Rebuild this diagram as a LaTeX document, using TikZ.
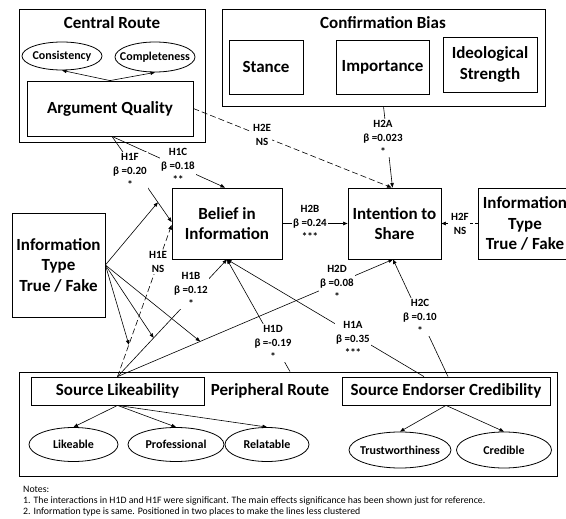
\documentclass[tikz,border=0pt]{standalone}
\usepackage{fontspec}
\setmainfont{Carlito}
\usetikzlibrary{arrows.meta,shapes.geometric,calc}
\begin{document}
\begin{tikzpicture}[x=1pt,y=-1pt,
  box/.style={draw, line width=0.8pt, inner sep=0pt, align=center, font=\fontsize{17}{20.5}\selectfont\bfseries},
  ell/.style={draw, ellipse, line width=0.8pt, inner sep=0pt, font=\fontsize{12}{14}\selectfont\bfseries},
  grp/.style={draw, line width=0.8pt, inner sep=0pt},
  ttl/.style={inner sep=0pt, font=\fontsize{17}{20}\selectfont\bfseries},
  lbl/.style={fill=white, inner sep=1pt, align=center, font=\fontsize{11}{14}\selectfont\bfseries},
  arr/.style={-{Triangle[length=4.5pt,width=3.5pt]}, line width=0.6pt},
  dsh/.style={arr, dash pattern=on 6pt off 3pt},
  note/.style={anchor=west, inner sep=0pt, font=\fontsize{9.8}{11}\selectfont},
]
\useasboundingbox (0,0) rectangle (566,519);

% Central route
\node[grp, minimum width=186pt, minimum height=133pt] (central) at (112,75.5) {};
\node[ttl] (centralT) at (112,23) {Central Route};
\node[ell, minimum width=80pt, minimum height=28pt] (consist) at (62,56) {\makebox[0pt]{Consistency}};
\node[ell, minimum width=80pt, minimum height=30pt] (complete) at (155,57) {\makebox[0pt]{Completeness}};
\node[box, minimum width=166pt, minimum height=55pt] (aq) at (110,108.5) {Argument Quality};

% Confirmation bias
\node[grp, minimum width=323pt, minimum height=97pt] (conf) at (383.5,57.5) {};
\node[ttl] (confT) at (383,23) {Confirmation Bias};
\node[box, minimum width=74pt, minimum height=54pt] (stance) at (266,67) {Stance};
\node[box, minimum width=93pt, minimum height=54pt] (import) at (382.5,67) {Importance};
\node[box, minimum width=94pt, minimum height=55pt] (ideo) at (490,64.5) {Ideological\\Strength};

% Middle
\node[box, minimum width=110pt, minimum height=71pt] (belief) at (227,223.5) {Belief in\\Information};
\node[box, minimum width=93pt, minimum height=71pt] (intent) at (394.5,223.5) {Intention to\\Share};
\node[box, minimum width=94pt, minimum height=71pt] (itr) at (525,223.5) {Information\\Type\\True / Fake};
\node[box, minimum width=93pt, minimum height=104pt] (itl) at (58.5,265) {Information\\Type\\True / Fake};

% Peripheral route
\node[grp, minimum width=538pt, minimum height=104pt] (per) at (288,424) {};
\node[box, minimum width=173pt, minimum height=28pt] (sl) at (117.5,391) {Source Likeability};
\node[ttl] (perT) at (270,391) {Peripheral Route};
\node[box, minimum width=208pt, minimum height=28pt] (sec) at (446,391) {Source Endorser Credibility};
\node[ell, minimum width=89pt, minimum height=34pt] (likeable) at (73.5,444.5) {\makebox[0pt]{Likeable}};
\node[ell, minimum width=96pt, minimum height=34pt] (prof) at (176,444.5) {\makebox[0pt]{Professional}};
\node[ell, minimum width=84pt, minimum height=34pt] (relat) at (267,444.5) {\makebox[0pt]{Relatable}};
\node[ell, minimum width=102pt, minimum height=36pt] (trust) at (400,450) {\makebox[0pt]{Trustworthiness}};
\node[ell, minimum width=95pt, minimum height=36pt] (cred) at (504,450) {\makebox[0pt]{Credible}};

% Connectors
\draw[arr] (aq.north) -- (consist.south);
\draw[arr] (aq.north) -- (complete.south);
\draw[arr] ($(aq.south)+(2,0)$) -- ($(belief.north)+(-2,0)$);
\draw[arr] ($(aq.south)+(2,0)$) -- coordinate[pos=0.77] (m1f) ($(belief.west)+(0,-1.5)$);
\draw[dsh] (aq.east) -- ($(intent.north)+(-3,0)$);
\draw[arr] (conf.south) -- ($(intent.north)+(-2,0)$);
\draw[arr] (belief.east) -- (intent.west);
\draw[arr, dash pattern=on 3pt off 2pt] (itr.west) -- (intent.east);
\draw[dsh] (sl.north) -- coordinate[pos=0.21] (m1e) ($(belief.west)+(0,1.5)$);
\draw[arr] (sl.north) -- coordinate[pos=0.33] (m1b) (belief.south);
\draw[arr] (sl.north) -- coordinate[pos=0.30] (m2d) ($(intent.south)+(-1.5,0)$);
\draw[arr] ($(per.north)+(2,0)$) -- (belief.south);
\draw[arr] ($(sec.north)+(-22,0)$) -- (belief.south);
\draw[arr] ($(sec.north)+(2,0)$) -- ($(intent.south)+(-1.5,0)$);
\draw[arr] (itl.east) -- (m1f);
\draw[arr] (itl.east) -- (m1e);
\draw[arr] (itl.east) -- (m1b);
\draw[arr] (itl.east) -- (m2d);
\draw[arr] (sl.south) -- (likeable.north);
\draw[arr] (sl.south) -- (prof.north);
\draw[arr] (sl.south) -- (relat.north);
\draw[arr] (sec.south) -- (trust.north);
\draw[arr] (sec.south) -- (cred.north);

% Labels
\node[lbl] (l1f) at (130,171) {H1F\\β =0.20\\*};
\node[lbl] (l1c) at (178,166) {H1C\\β =0.18\\**};
\node[lbl] (l2e) at (262,135) {H2E\\NS};
\node[lbl] (l2a) at (383,138) {H2A\\β =0.023\\*};
\node[lbl] (l2b) at (310,223) {H2B\\β =0.24\\***};
\node[lbl] (l2f) at (460,224) {H2F\\NS};
\node[lbl] (l1e) at (158,262) {H1E\\NS};
\node[lbl] (l1b) at (191,290) {H1B\\β =0.12\\*};
\node[lbl] (l2d) at (337,283) {H2D\\β =0.08\\*};
\node[lbl] (l1d) at (273,343) {H1D\\β =-0.19\\*};
\node[lbl] (l1a) at (353,339) {H1A\\β =0.35\\***};
\node[lbl] (l2c) at (420,317) {H2C\\β =0.10\\*};

% Notes
\node[note] (n0) at (23,489) {Notes:};
\node[note] (n1) at (23,501) {1. The interactions in H1D and H1F were significant. The main effects significance has been shown just for reference.};
\node[note] (n2) at (23,511.5) {2. Information type is same. Positioned in two places to make the lines less clustered};
\end{tikzpicture}
\end{document}
